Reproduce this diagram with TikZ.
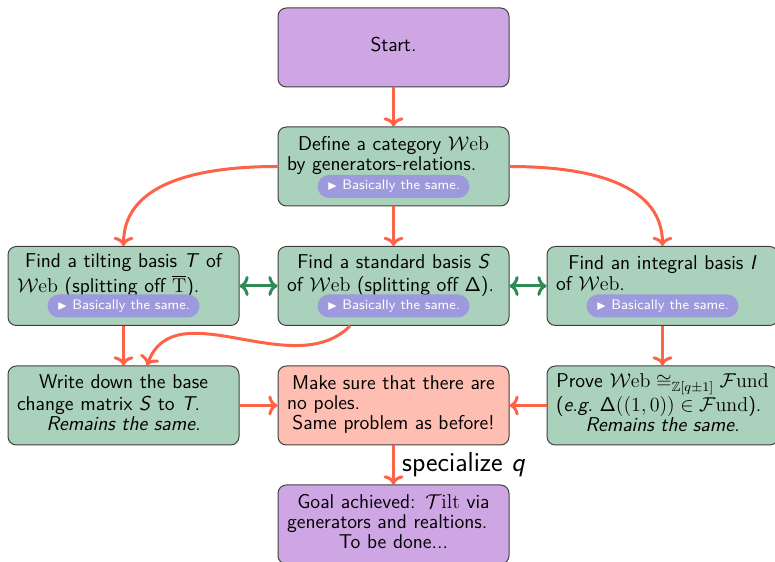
\documentclass[tikz,border=0pt]{standalone}
\usepackage{amsmath,amssymb}
\usetikzlibrary{arrows.meta}
\definecolor{lilac}{RGB}{207,166,228}
\definecolor{sage}{RGB}{170,209,187}
\definecolor{salmon}{RGB}{255,190,178}
\definecolor{pillblue}{RGB}{157,153,221}
\definecolor{tomato}{RGB}{255,99,71}
\definecolor{seagreen}{RGB}{46,139,87}
\newcommand{\midline}[1]{\makebox[\linewidth]{#1}}

\begin{document}
\begin{tikzpicture}[x=0.6pt,y=0.6pt,
  box/.style={draw=black!75,line width=0.6pt,rounded corners=5pt,minimum width=138.6pt,minimum height=47.4pt,text width=127.8pt,inner xsep=5.4pt,inner ysep=0pt,align=left,font=\sffamily\fontsize{12}{12}\selectfont,execute at begin node=\strut,execute at end node=\strut},
  pill/.style={fill=pillblue,text=white,rounded corners=6.9pt,minimum width=91.2pt,minimum height=13.8pt,inner sep=0pt,font=\sffamily\fontsize{8.3}{10}\selectfont},
  flow/.style={draw=tomato,line width=1.8pt,-{Computer Modern Rightarrow[length=5.5pt,width=12pt]}},
  link/.style={draw=seagreen,line width=1.8pt,{Computer Modern Rightarrow[length=5.5pt,width=12pt]}-{Computer Modern Rightarrow[length=5.5pt,width=12pt]}}]
\useasboundingbox (0,0) rectangle (775,-562);
\node[box,fill=lilac] at (393.5,-47.5) (start) {\midline{Start.}};
\node[box,fill=sage] at (393.5,-166.5) (define) {\midline{Define a category $\mathcal{W}\mathrm{eb}$}\\ by generators-relations.\\};
\node[box,fill=sage] at (123.5,-286) (tilting) {\midline{Find a tilting basis \textit{T} of}\\ $\mathcal{W}\mathrm{eb}$ (splitting off $\overline{\mathrm{T}}$).\\};
\node[box,fill=sage] at (393.5,-286) (standard) {\midline{Find a standard basis \textit{S}}\\ of $\mathcal{W}\mathrm{eb}$ (splitting off Δ).\\};
\node[box,fill=sage] at (662.5,-286) (integral) {\midline{Find an integral basis \textit{I}}\\ of $\mathcal{W}\mathrm{eb}$.\\};
\node[box,fill=sage] at (123.5,-405.5) (write) {\midline{Write down the base}\\ change matrix \textit{S} to \textit{T}.\\ \midline{\itshape Remains the same.}};
\node[box,fill=salmon] at (393.5,-405.5) (sure) {\midline{Make sure that there are}\\ no poles.\\ \midline{Same problem as before!}};
\node[box,fill=sage] at (662.5,-405.5) (prove) {\midline{Prove $\mathcal{W}\mathrm{eb}\cong_{\mathbb{Z}[q\pm1]}\mathcal{F}\mathrm{und}$}\\ (\textit{e.g.}\ Δ$((1,0))\in\mathcal{F}\mathrm{und}$).\\ \midline{\itshape Remains the same.}};
\node[box,fill=lilac] at (393.5,-524.5) (goal) {\midline{Goal achieved: $\mathcal{T}\mathrm{ilt}$ via}\\ generators and realtions.\\ \midline{To be done...}};
\node[pill] at ([yshift=-12pt]define.center) (definenote) {{\scriptsize$\blacktriangleright$}\ Basically the same.};
\node[pill] at ([yshift=-12pt]tilting.center) (tiltingnote) {{\scriptsize$\blacktriangleright$}\ Basically the same.};
\node[pill] at ([yshift=-12pt]standard.center) (standardnote) {{\scriptsize$\blacktriangleright$}\ Basically the same.};
\node[pill] at ([yshift=-12pt]integral.center) (integralnote) {{\scriptsize$\blacktriangleright$}\ Basically the same.};
\draw[flow] (start) -- (define);
\draw[flow] (define.west) to[out=180,in=90] (tilting.north);
\draw[flow] (define) -- (standard);
\draw[flow] (define.east) to[out=0,in=90] (integral.north);
\draw[link] (tilting) -- (standard);
\draw[link] (standard) -- (integral);
\draw[flow] (tilting) -- (write);
\draw[flow] ([xshift=-26.1pt]standard.south) to[out=-135,in=70] ([xshift=14.1pt]write.north);
\draw[flow] (integral) -- (prove);
\draw[flow] (write) -- (sure);
\draw[flow] (prove) -- (sure);
\draw[flow] (sure) -- node[right,xshift=1pt,font=\sffamily\fontsize{16.5}{19}\selectfont] (speclabel) {specialize \textit{q}} (goal);
\end{tikzpicture}
\end{document}
